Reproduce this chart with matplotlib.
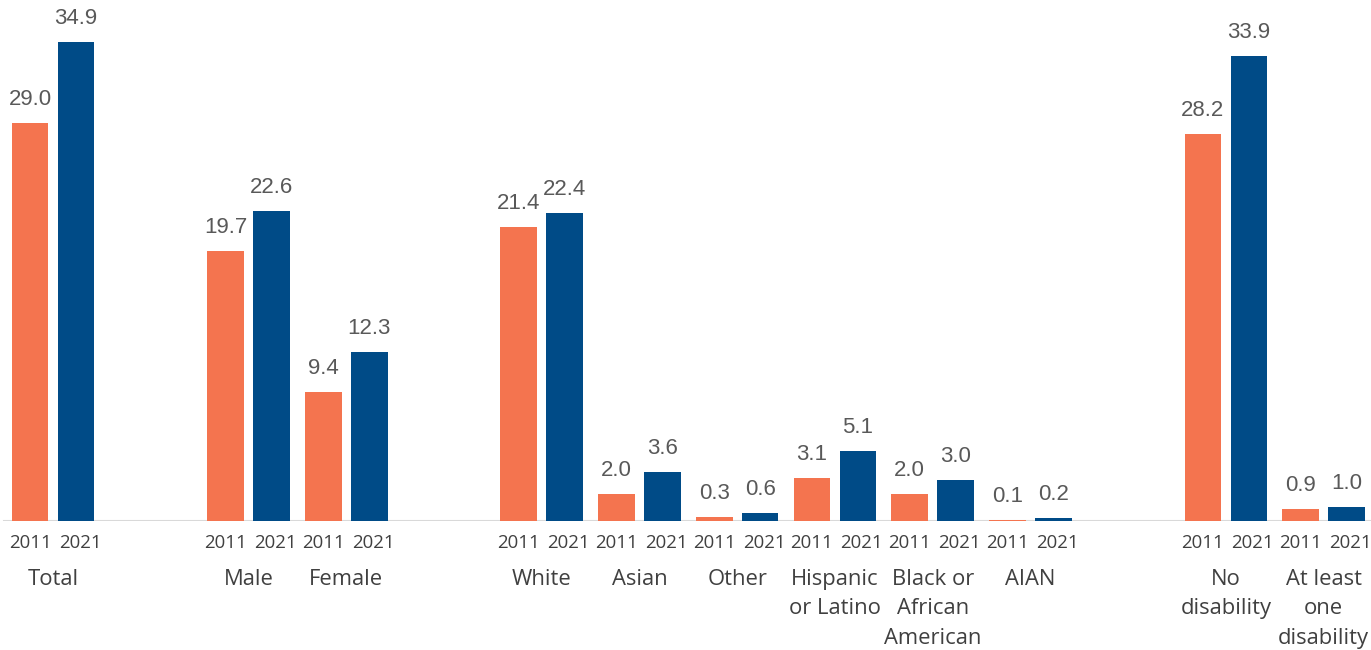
import matplotlib
matplotlib.use("Agg")
import matplotlib.pyplot as plt
import numpy as np

categories = ["Total", "Male", "Female", "White", "Asian", "Other",
              "Hispanic\nor Latino", "Black or\nAfrican\nAmerican", "AIAN",
              "No\ndisability", "At least\none\ndisability"]
slots = [0, 2, 3, 5, 6, 7, 8, 9, 10, 12, 13]
years = ["2011", "2021"]
values_2011 = [29.0, 19.7, 9.4, 21.4, 2.0, 0.3, 3.1, 2.0, 0.1, 28.2, 0.9]
values_2021 = [34.9, 22.6, 12.3, 22.4, 3.6, 0.6, 5.1, 3.0, 0.2, 33.9, 1.0]

c2011 = "#F4744F"
c2021 = "#004B87"

W, H = 1371, 650
fig = plt.figure(figsize=(W / 100, H / 100), dpi=100)
base_px = 521
ax = fig.add_axes([0, 1 - base_px / H, 1, base_px / H])

slot_w = 97.74
x0 = 53.0
ax.set_xlim(-x0 / slot_w, (W - x0) / slot_w)
ax.set_ylim(0, base_px / 13.73)

off = 0.235
bw = 0.375
x = np.array(slots, dtype=float)
ax.axhline(0, xmin=4 / W, xmax=1, color="#D9D9D9", lw=1.5, zorder=1)
ax.bar(x - off, values_2011, width=bw, color=c2011, zorder=2)
ax.bar(x + off, values_2021, width=bw, color=c2021, zorder=2)

for xs, vals in ((x - off, values_2011), (x + off, values_2021)):
    for xi, v in zip(xs, vals):
        ax.annotate(f"{v:.1f}", (xi, v), xytext=(0, 13), textcoords="offset pixels",
                    ha="center", va="bottom", fontsize=16, color="#595959",
                    family="Liberation Sans")

for xi in x:
    for dx, px, yr in ((-off, 0, years[0]), (off, 4, years[1])):
        ax.annotate(yr, (xi + dx, 0), xycoords=("data", "axes fraction"),
                    xytext=(px, -22), textcoords="offset pixels",
                    ha="center", va="center", fontsize=13.4, color="#404040",
                    family="Open Sans")

for xi, cat in zip(x, categories):
    ax.annotate(cat, (xi, 0), xycoords=("data", "axes fraction"),
                xytext=(0, -48), textcoords="offset pixels",
                ha="center", va="top", fontsize=15.8, color="#404040",
                family="Open Sans", linespacing=1.52)

ax.axis("off")
fig.savefig("out.png", dpi=100)
